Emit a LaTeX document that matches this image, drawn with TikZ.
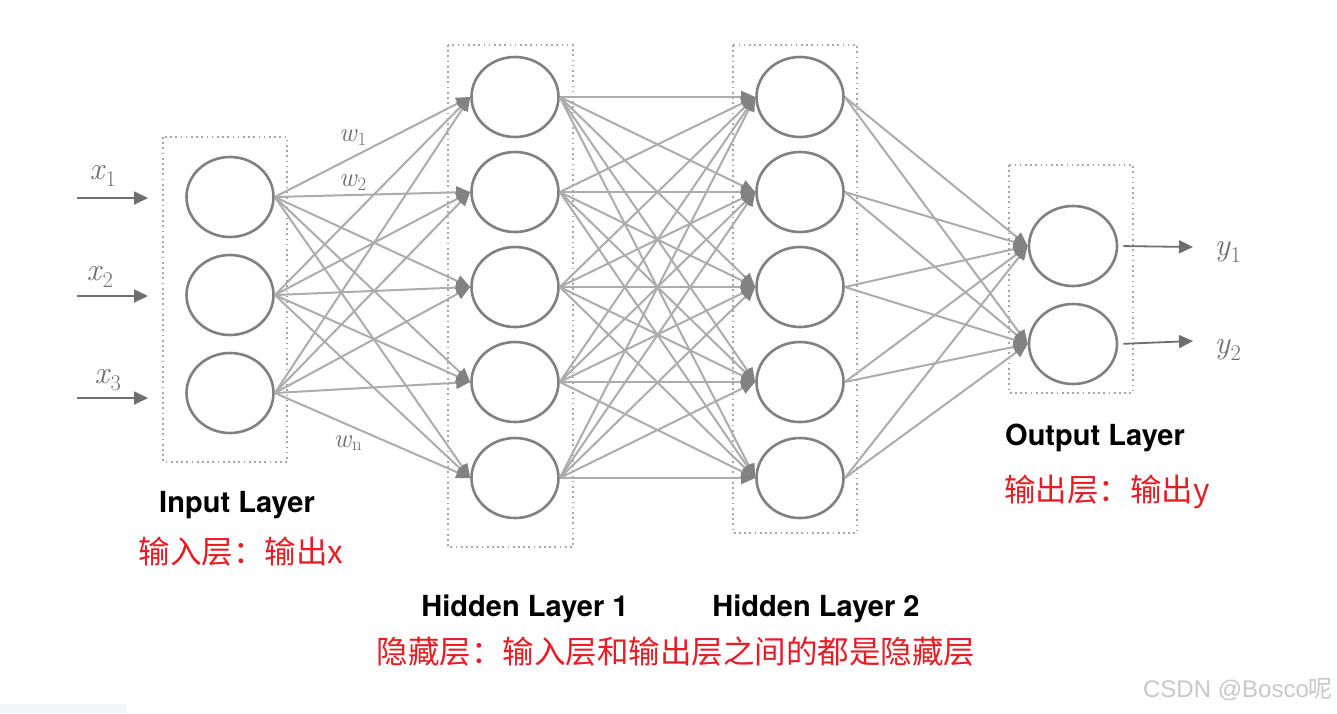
\documentclass[tikz,border=0pt]{standalone}
\usepackage{fontspec}
\usetikzlibrary{shapes.geometric,arrows.meta}
\newfontfamily\cjk{Noto Sans CJK SC}
\newfontfamily\heros{TeX Gyre Heros}
\newfontfamily\wmfont{Liberation Sans}
\newcommand{\vsub}[2]{\textit{#1}\textsubscript{#2}}
\definecolor{edgegray}{RGB}{172,172,172}
\definecolor{nodegray}{RGB}{128,128,128}
\definecolor{boxgray}{RGB}{165,165,165}
\definecolor{tipgray}{RGB}{130,130,130}
\definecolor{labgray}{RGB}{110,110,110}
\definecolor{labred}{RGB}{232,28,36}
\definecolor{wmgray}{RGB}{200,200,200}
\definecolor{barfill}{RGB}{244,245,247}
\begin{document}
\begin{tikzpicture}[x=1pt,y=-1pt,
  neuron/.style={ellipse,draw=nodegray,line width=2.6pt,minimum width=87pt,minimum height=80pt,inner sep=0pt,fill=white},
  layerbox/.style={draw=boxgray,line width=1.7pt,dash pattern=on 1.7pt off 3.5pt},
  conn/.style={draw=edgegray,line width=2pt,-{Triangle[length=14pt,width=12pt,color=tipgray]}},
  ioarrow/.style={draw=labgray,line width=1.8pt,-{Triangle[length=14pt,width=13pt,color=labgray]}},
  varlabel/.style={text=labgray,inner sep=0pt,font=\fontsize{32}{32}\selectfont},
  wlabel/.style={text=labgray,inner sep=0pt,font=\fontsize{27}{27}\selectfont},
  enlabel/.style={inner sep=0pt,font=\heros\bfseries\fontsize{29}{30}\selectfont},
  cnlabel/.style={inner sep=0pt,text=labred,font=\cjk\fontsize{31.5}{34}\selectfont}
]
\path[use as bounding box,fill=white] (0,0) rectangle (1337,713);
\fill[barfill] (0,704) rectangle (127,713);

% layer boxes
\draw[layerbox] (163,137) rectangle (287,462);
\draw[layerbox] (448,45) rectangle (573,547);
\draw[layerbox] (733,45) rectangle (857,533);
\draw[layerbox] (1009,165) rectangle (1133,393);

% neurons
\node[neuron] (i1) at (230,197) {};
\node[neuron] (i2) at (230,295) {};
\node[neuron] (i3) at (230,393) {};
\foreach \k/\yy in {1/97,2/192,3/287,4/382,5/478}{
  \node[neuron] (h\k) at (515,\yy) {};
  \node[neuron] (g\k) at (800,\yy) {};
}
\node[neuron,minimum width=88pt] (o1) at (1073,246) {};
\node[neuron,minimum width=88pt] (o2) at (1073,344) {};

% connections
\foreach \a in {1,2,3}{\foreach \b in {1,...,5}{\draw[conn] (i\a.east) -- (h\b.west);}}
\foreach \a in {1,...,5}{\foreach \b in {1,...,5}{\draw[conn] (h\a.east) -- (g\b.west);}}
\foreach \a in {1,...,5}{\foreach \b in {1,2}{\draw[conn] (g\a.east) -- (o\b.west);}}

% input arrows
\coordinate (xs1) at (77,198);  \coordinate (xe1) at (148,198);
\coordinate (xs2) at (77,296);  \coordinate (xe2) at (148,296);
\coordinate (xs3) at (77,398);  \coordinate (xe3) at (148,398);
\draw[ioarrow] (xs1) -- (xe1);
\draw[ioarrow] (xs2) -- (xe2);
\draw[ioarrow] (xs3) -- (xe3);
\coordinate (ye1) at (1193,247);
\coordinate (ye2) at (1193,341);
\draw[ioarrow,shorten <=5pt] (o1.east) -- (ye1);
\draw[ioarrow,shorten <=5pt] (o2.east) -- (ye2);

% variable labels
\node[varlabel] (lx1) at (103,176) {\vsub{x}{1}};
\node[varlabel] (lx2) at (100,277) {\vsub{x}{2}};
\node[varlabel] (lx3) at (108,380) {\vsub{x}{3}};
\node[varlabel] (ly1) at (1228,252) {\vsub{y}{1}};
\node[varlabel] (ly2) at (1228,350) {\vsub{y}{2}};
\node[wlabel] (lw1) at (353,138) {\vsub{w}{1}};
\node[wlabel] (lw2) at (353,183) {\vsub{w}{2}};
\node[wlabel] (lwn) at (348,443) {\vsub{w}{n}};

% layer names
\node[enlabel] (tin) at (237,505) {Input Layer};
\node[enlabel] (th1) at (525,609) {Hidden Layer 1};
\node[enlabel] (th2) at (816,609) {Hidden Layer 2};
\node[enlabel] (tout) at (1095,438) {Output Layer};

% red notes
\node[cnlabel] (cin) at (241,552) {输入层：输出x};
\node[cnlabel] (cout) at (1107,492) {输出层：输出y};
\node[cnlabel] (chid) at (676,652) {隐藏层：输入层和输出层之间的都是隐藏层};

% watermark
\node[inner sep=0pt,text=wmgray,font=\wmfont\fontsize{24}{26}\selectfont] (wm) at (1238,690) {CSDN @Bosco{\cjk 呢}};
\end{tikzpicture}
\end{document}
